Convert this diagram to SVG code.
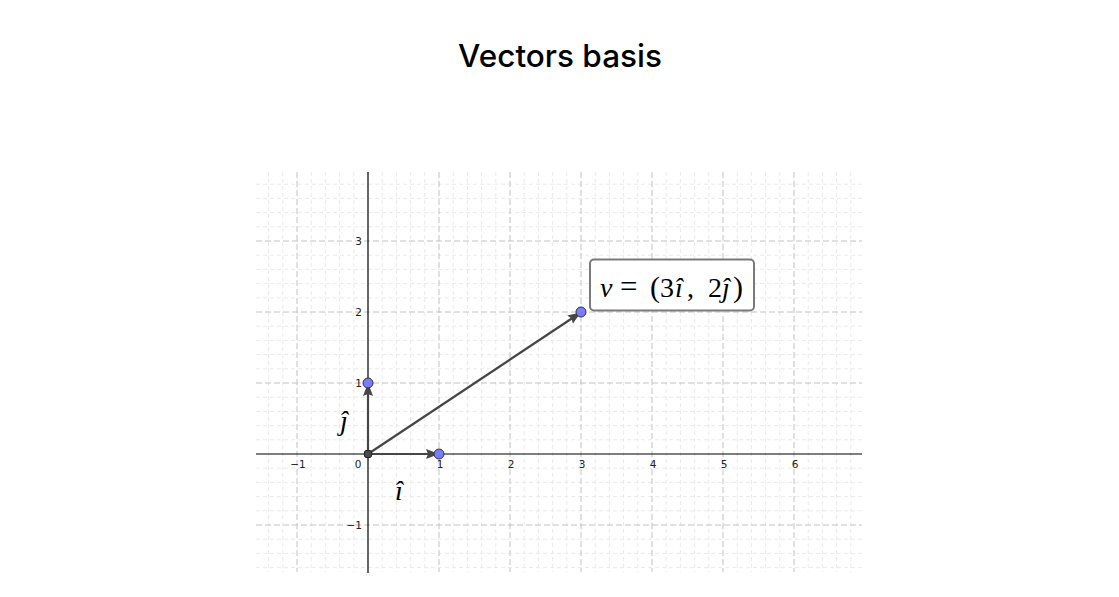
<svg xmlns="http://www.w3.org/2000/svg" width="1119" height="597" viewBox="0 0 1119 597">
<style>
.minor{stroke:#eaeaea;stroke-width:1;stroke-dasharray:4 3;fill:none}
.major{stroke:#c2c2c2;stroke-width:1;stroke-dasharray:6 3;fill:none}
.axis{stroke:#000;stroke-width:1.2;fill:none}
.tick{font-family:"DejaVu Sans",sans-serif;font-size:10.5px;fill:#222}
.vec{stroke:#464646;stroke-width:2.2;fill:none}
.pt{fill:#7b7bff;stroke:#333;stroke-width:1}
.math{font-family:"Liberation Serif",serif;font-size:28px;fill:#000}
.it{font-style:italic}
</style>
<defs>
<marker id="ah" markerUnits="userSpaceOnUse" markerWidth="14" markerHeight="12" refX="12" refY="5" orient="auto">
<path d="M0,0 L13,5 L0,10 L2,5 Z" fill="#464646"/>
</marker>
</defs>
<rect width="1119" height="597" fill="#fff"/>
<text x="560" y="67" text-anchor="middle" font-family="Inter,sans-serif" font-weight="500" font-size="31.5" fill="#000">Vectors basis</text>
<g id="grid">
<path class="minor" d="M268.6 172V572M282.8 172V572M311.2 172V572M325.4 172V572M339.6 172V572M353.8 172V572M382.2 172V572M396.4 172V572M410.6 172V572M424.8 172V572M453.2 172V572M467.4 172V572M481.6 172V572M495.8 172V572M524.2 172V572M538.4 172V572M552.6 172V572M566.8 172V572M595.2 172V572M609.4 172V572M623.6 172V572M637.8 172V572M666.2 172V572M680.4 172V572M694.6 172V572M708.8 172V572M737.2 172V572M751.4 172V572M765.6 172V572M779.8 172V572M808.2 172V572M822.4 172V572M836.6 172V572M850.8 172V572"/>
<path class="minor" d="M256 567.6H862M256 553.4H862M256 539.2H862M256 510.8H862M256 496.6H862M256 482.4H862M256 468.2H862M256 439.8H862M256 425.6H862M256 411.4H862M256 397.2H862M256 368.8H862M256 354.6H862M256 340.4H862M256 326.2H862M256 297.8H862M256 283.6H862M256 269.4H862M256 255.2H862M256 226.8H862M256 212.6H862M256 198.4H862M256 184.2H862"/>
<path class="major" d="M297 172V572M439 172V572M510 172V572M581 172V572M652 172V572M723 172V572M794 172V572M256 525H862M256 383H862M256 312H862M256 241H862"/>
</g>
<g id="axes">
<path class="axis" d="M256 454H862M368 172V573"/>
<text class="tick" x="298" y="468" text-anchor="middle">−1</text>
<text class="tick" x="358" y="468" text-anchor="middle">0</text>
<text class="tick" x="440" y="468" text-anchor="middle">1</text>
<text class="tick" x="511" y="468" text-anchor="middle">2</text>
<text class="tick" x="582" y="468" text-anchor="middle">3</text>
<text class="tick" x="653" y="468" text-anchor="middle">4</text>
<text class="tick" x="724" y="468" text-anchor="middle">5</text>
<text class="tick" x="795" y="468" text-anchor="middle">6</text>
<text class="tick" x="362" y="245" text-anchor="end">3</text>
<text class="tick" x="362" y="316" text-anchor="end">2</text>
<text class="tick" x="362" y="387" text-anchor="end">1</text>
<text class="tick" x="362" y="529" text-anchor="end">−1</text>
</g>
<g id="connectors">
<line class="vec" x1="368" y1="454" x2="368" y2="384" marker-end="url(#ah)"/>
<line class="vec" x1="368" y1="454" x2="438" y2="454" marker-end="url(#ah)"/>
<line class="vec" x1="368" y1="454" x2="580" y2="313" marker-end="url(#ah)"/>
</g>
<g id="origin"><circle cx="368" cy="454" r="4" fill="#4a4a4a" stroke="#222" stroke-width="1"/></g>
<g id="point-j"><circle class="pt" cx="368" cy="383" r="5"/></g>
<g id="point-i"><circle class="pt" cx="439" cy="454" r="5"/></g>
<g id="point-v"><circle class="pt" cx="581" cy="312" r="5" fill="#4d4dff"/></g>
<g id="label-j"><text class="math it" x="340" y="430" font-size="27">ĵ</text></g>
<g id="label-i"><text class="math it" x="395" y="500" font-size="27">î</text></g>
<g id="label-v">
<rect x="590" y="259.5" width="164" height="51" rx="4" fill="#fff" stroke="#7a7a7a" stroke-width="2"/>
<text class="math" y="297"><tspan class="it" x="600">v</tspan><tspan x="620" font-size="31">=</tspan><tspan x="650" font-size="30">(</tspan><tspan x="660">3</tspan><tspan class="it" x="675">î</tspan><tspan x="687">,</tspan><tspan x="708">2</tspan><tspan class="it" x="722">ĵ</tspan><tspan x="733" font-size="30">)</tspan></text>
</g>
</svg>
